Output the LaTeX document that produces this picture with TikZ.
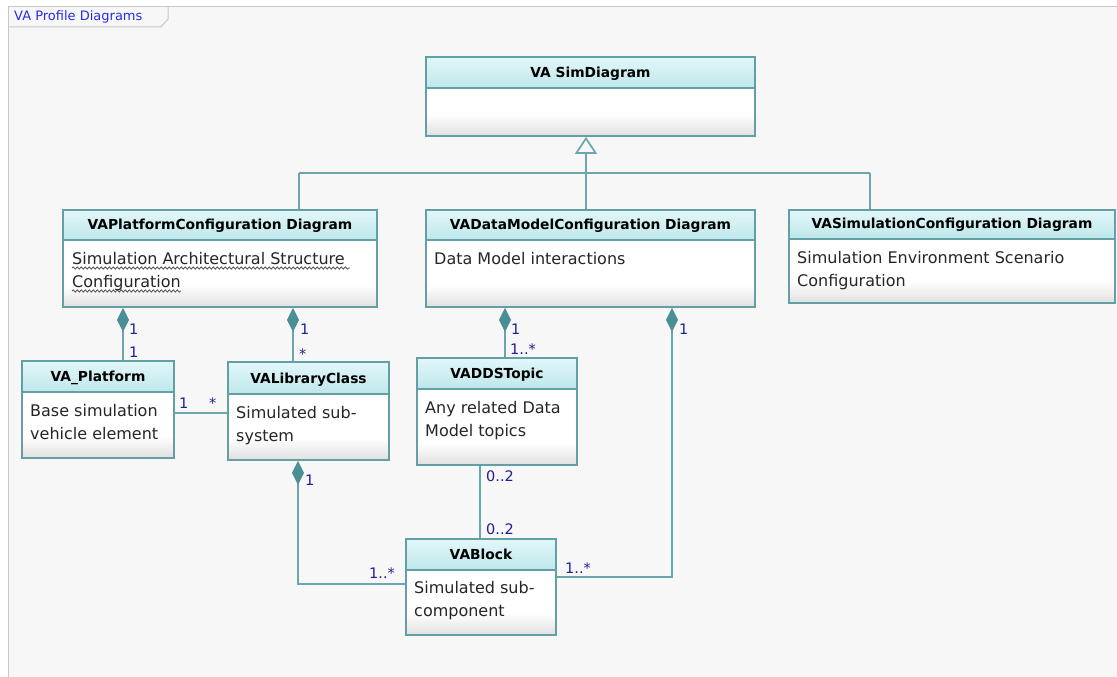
\documentclass[tikz,border=0pt]{standalone}
\usepackage{fontspec}
\setmainfont{DejaVu Sans}
\usetikzlibrary{arrows.meta,fit,calc,decorations.pathmorphing}

\definecolor{pagebg}{HTML}{F7F7F7}
\definecolor{framegray}{HTML}{C8C8C8}
\definecolor{tabblue}{HTML}{2A2AE6}
\definecolor{umledge}{HTML}{6AA7AD}
\definecolor{umlborder}{HTML}{62A0A6}
\definecolor{diamondfill}{HTML}{4B8F96}
\definecolor{hdtop}{HTML}{E2F7F9}
\definecolor{hdbot}{HTML}{BEE7EB}
\definecolor{bodybot}{HTML}{E0E0E0}
\definecolor{multblue}{HTML}{1F1F99}
\definecolor{squiggle}{HTML}{5A5A5A}

\tikzset{
  edge/.style={draw=umledge, line width=1.7pt},
  boxframe/.style={draw=umlborder, line width=1.7pt, inner sep=0pt},
  classtitle/.style={font=\fontsize{13.8}{16}\selectfont\bfseries, text=black, inner sep=0pt, anchor=base},
  bodytext/.style={font=\fontsize{16}{19}\selectfont, text=black!85, inner sep=0pt, anchor=base west},
  mult/.style={font=\fontsize{14.5}{16}\selectfont, text=multblue, inner sep=0pt, anchor=base west},
  comp/.style={arrows={Diamond[length=24pt,width=12pt,color=diamondfill,fill=diamondfill]-}},
  gen/.style={arrows={-Triangle[open,length=17pt,width=22pt,color=umledge,fill=pagebg]}},
  spell/.style={draw=squiggle, line width=0.9pt, decorate,
    decoration={snake, segment length=4pt, amplitude=1.1pt}},
}

% class box: name, left, top, right, bottom, header bottom, title
\newcommand\umlclass[7]{%
  \shade[top color=hdtop, bottom color=hdbot] (#2,#3) rectangle (#4,#6);
  \fill[white] (#2,#6) rectangle (#4,#5);
  \shade[top color=white, bottom color=bodybot] (#2,{#5-22}) rectangle (#4,#5);
  \draw[draw=umlborder, line width=1.7pt] (#2,#6) -- (#4,#6);
  \node[boxframe, fit={(#2,#3) (#4,#5)}] (#1) {};
  \node[classtitle] (#1-title) at ({(#2+#4)/2},{#6-10.5}) {#7};
}

\begin{document}
\begin{tikzpicture}[x=1pt, y=-1pt]
\useasboundingbox (0,0) rectangle (1117,677);

% page and diagram frame
\fill[white] (0,0) rectangle (1117,677);
\fill[pagebg] (8,7) rectangle (1117,677);
\draw[framegray, line width=1pt] (8,677) -- (8,7) -- (1117,7);
\draw[framegray, line width=1pt] (8,27) -- (161,27) -- (168,19) -- (168,7);
\node[anchor=base west, font=\fontsize{13}{15}\selectfont, text=tabblue, inner sep=0pt] (tab) at (14,21) {VA Profile Diagrams};

% classes
\umlclass{simdiag}{426}{57}{755}{136}{88}{VA SimDiagram}
\umlclass{platcfg}{63}{210}{377}{307}{240}{VAPlatformConfiguration Diagram}
\umlclass{dmcfg}{426}{210}{755}{307}{240}{VADataModelConfiguration Diagram}
\umlclass{simcfg}{789}{210}{1115}{303}{239}{VASimulationConfiguration Diagram}
\umlclass{platform}{22}{361}{174}{458}{392}{VA\_Platform}
\umlclass{libclass}{228}{362}{389}{460}{394}{VALibraryClass}
\umlclass{ddstopic}{417}{358}{577}{465}{389}{VADDSTopic}
\umlclass{vablock}{406}{539}{556}{635}{570}{VABlock}

% class descriptions
\node[bodytext] (platcfg-l1) at (72,264) {Simulation Architectural Structure};
\node[bodytext] (platcfg-l2) at (72,287) {Configuration};
\draw[spell] ($(platcfg-l1.base west)+(0,4)$) -- ($(platcfg-l1.base east)+(5,4)$);
\draw[spell] ($(platcfg-l2.base west)+(0,4)$) -- ($(platcfg-l2.base east)+(0,4)$);
\node[bodytext] (dmcfg-l1) at (434,264) {Data Model interactions};
\node[bodytext] (simcfg-l1) at (797,263) {Simulation Environment Scenario};
\node[bodytext] (simcfg-l2) at (797,286) {Configuration};
\node[bodytext] (platform-l1) at (30,416) {Base simulation};
\node[bodytext] (platform-l2) at (30,439) {vehicle element};
\node[bodytext] (libclass-l1) at (236,418) {Simulated sub-};
\node[bodytext] (libclass-l2) at (236,441) {system};
\node[bodytext] (ddstopic-l1) at (425,413) {Any related Data};
\node[bodytext] (ddstopic-l2) at (425,436) {Model topics};
\node[bodytext] (vablock-l1) at (414,593) {Simulated sub-};
\node[bodytext] (vablock-l2) at (414,616) {component};

% generalization
\coordinate (busL) at (299,173);
\coordinate (busM) at (586,173);
\coordinate (busR) at (870,173);
\draw[edge] (busL) -- (busR);
\draw[edge] (busL) -- (busL |- platcfg.north);
\draw[edge] (busR) -- (busR |- simcfg.north);
\draw[edge] (busM |- dmcfg.north) -- (busM);
\draw[edge, gen] (busM) -- (busM |- simdiag.south);

% compositions and associations
\draw[edge, comp] (platcfg.south -| 123,0) -- (platform.north -| 123,0);
\draw[edge, comp] (platcfg.south -| 293,0) -- (libclass.north -| 293,0);
\draw[edge, comp] (dmcfg.south -| 505,0) -- (ddstopic.north -| 505,0);
\draw[edge, comp] (dmcfg.south -| 672,0) |- (vablock.east |- 0,577);
\draw[edge, comp] (libclass.south -| 298,0) |- (vablock.west |- 0,584);
\draw[edge] (platform.east |- 0,413) -- (libclass.west |- 0,413);
\draw[edge] (ddstopic.south -| 480,0) -- (vablock.north -| 480,0);

% multiplicities
\node[mult] (m1) at (129,334) {1};
\node[mult] (m2) at (129,357) {1};
\node[mult] (m3) at (300,334) {1};
\node[mult] (m4) at (299,359) {*};
\node[mult] (m5) at (179,408) {1};
\node[mult] (m6) at (209,408) {*};
\node[mult] (m7) at (511,334) {1};
\node[mult] (m8) at (510,354) {1..*};
\node[mult] (m9) at (679,334) {1};
\node[mult] (m10) at (486,481) {0..2};
\node[mult] (m11) at (486,534) {0..2};
\node[mult] (m12) at (305,485) {1};
\node[mult] (m13) at (369,578) {1..*};
\node[mult] (m14) at (565,573) {1..*};
\end{tikzpicture}
\end{document}
